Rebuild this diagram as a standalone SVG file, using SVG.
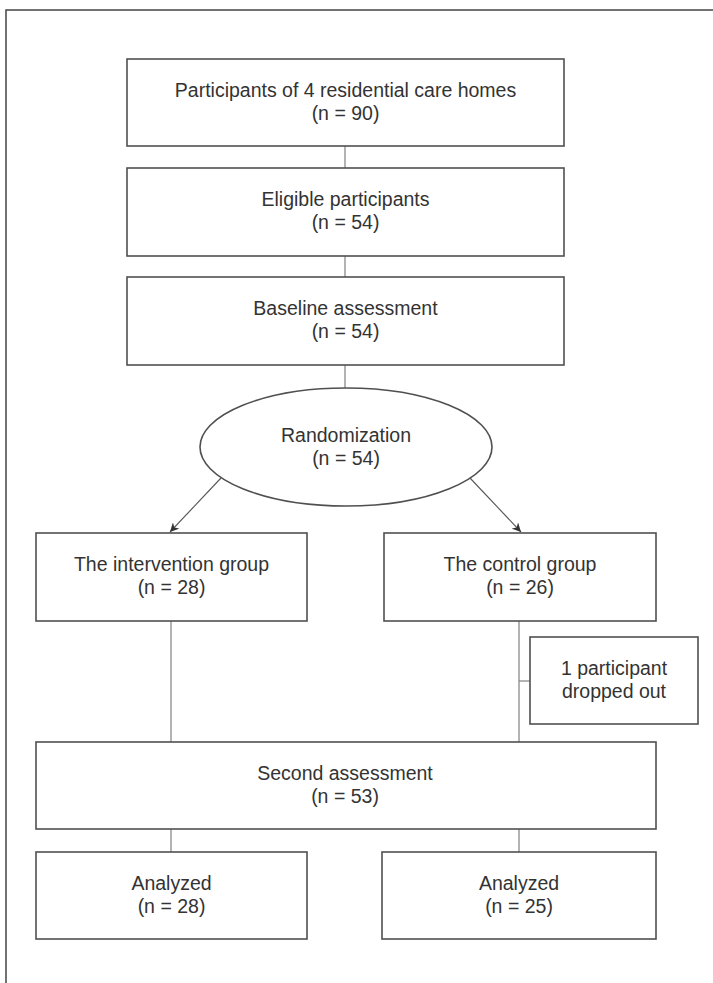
<svg xmlns="http://www.w3.org/2000/svg" width="713" height="983" viewBox="0 0 713 983">
<style>
.box{fill:#fff;stroke:#505050;stroke-width:1.6}
.ln{fill:none;stroke:#808080;stroke-width:1.2}
.ar{fill:none;stroke:#555;stroke-width:1.1}
.frame{fill:none;stroke:#444;stroke-width:1.5}
text{font-family:"Liberation Sans",Arial,sans-serif;font-size:19.5px;fill:#333;text-anchor:middle}
</style>
<defs>
<marker id="ah" viewBox="0 0 10 10" refX="10" refY="5" markerWidth="9" markerHeight="9" markerUnits="userSpaceOnUse" orient="auto">
<path d="M0,0 L10,5 L0,10 L3,5 z" fill="#333"/>
</marker>
</defs>
<rect width="713" height="983" fill="#fff"/>
<path class="frame" d="M6,983 V10 H713"/>
<g id="connectors">
<line class="ln" x1="345" y1="146" x2="345" y2="168"/>
<line class="ln" x1="345" y1="256" x2="345" y2="277"/>
<line class="ln" x1="345" y1="365" x2="345" y2="388"/>
<line class="ar" x1="221" y1="478" x2="170" y2="532" marker-end="url(#ah)"/>
<line class="ar" x1="470" y1="478" x2="521" y2="532" marker-end="url(#ah)"/>
<line class="ln" x1="171" y1="621" x2="171" y2="742"/>
<line class="ln" x1="519" y1="621" x2="519" y2="742"/>
<line class="ln" x1="519" y1="681" x2="530" y2="681"/>
<line class="ln" x1="171" y1="829" x2="171" y2="852"/>
<line class="ln" x1="519" y1="829" x2="519" y2="852"/>
</g>
<g id="n1"><rect class="box" x="127" y="59" width="437" height="87"/><text x="345.5" y="97">Participants of 4 residential care homes</text><text x="345.5" y="120">(n = 90)</text></g>
<g id="n2"><rect class="box" x="127" y="168" width="437" height="88"/><text x="345.5" y="206">Eligible participants</text><text x="345.5" y="229">(n = 54)</text></g>
<g id="n3"><rect class="box" x="127" y="277" width="437" height="88"/><text x="345.5" y="315">Baseline assessment</text><text x="345.5" y="338">(n = 54)</text></g>
<g id="n4"><ellipse class="box" cx="346" cy="447" rx="146" ry="59"/><text x="346" y="442">Randomization</text><text x="346" y="465">(n = 54)</text></g>
<g id="n5"><rect class="box" x="36" y="533" width="271" height="88"/><text x="171.5" y="571">The intervention group</text><text x="171.5" y="594">(n = 28)</text></g>
<g id="n6"><rect class="box" x="384" y="533" width="272" height="88"/><text x="520" y="571">The control group</text><text x="520" y="594">(n = 26)</text></g>
<g id="n7"><rect class="box" x="530" y="637" width="168" height="87"/><text x="614" y="675">1 participant</text><text x="614" y="698">dropped out</text></g>
<g id="n8"><rect class="box" x="36" y="742" width="620" height="87"/><text x="345" y="780">Second assessment</text><text x="345" y="803">(n = 53)</text></g>
<g id="n9"><rect class="box" x="36" y="852" width="271" height="87"/><text x="171.5" y="890">Analyzed</text><text x="171.5" y="913">(n = 28)</text></g>
<g id="n10"><rect class="box" x="382" y="852" width="274" height="87"/><text x="519" y="890">Analyzed</text><text x="519" y="913">(n = 25)</text></g>
</svg>
